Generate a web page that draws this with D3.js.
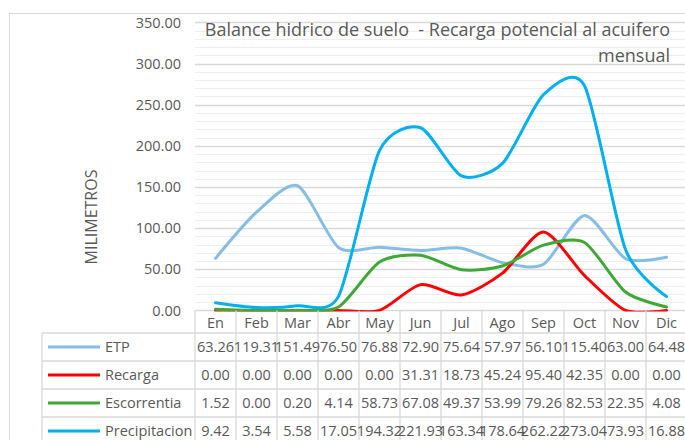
<!DOCTYPE html>
<html>
<head>
<meta charset="utf-8">
<script src="https://cdn.jsdelivr.net/npm/d3@7"></script>
<style>
  body { margin: 0; background: #fff; }
  text { font-family: "Open Sans", "Noto Sans", sans-serif; fill: #595959; }
</style>
</head>
<body>
<div id="chart"></div>
<script>
var months = ["En", "Feb", "Mar", "Abr", "May", "Jun", "Jul", "Ago", "Sep", "Oct", "Nov", "Dic"];
var etp = [63.26, 119.31, 151.49, 76.50, 76.88, 72.90, 75.64, 57.97, 56.10, 115.40, 63.00, 64.48];
var recarga = [0.00, 0.00, 0.00, 0.00, 0.00, 31.31, 18.73, 45.24, 95.40, 42.35, 0.00, 0.00];
var escorrentia = [1.52, 0.00, 0.20, 4.14, 58.73, 67.08, 49.37, 53.99, 79.26, 82.53, 22.35, 4.08];
var precipitacion = [9.42, 3.54, 5.58, 17.05, 194.32, 221.93, 163.34, 178.64, 262.22, 273.04, 73.93, 16.88];
var yTicks = [0, 50, 100, 150, 200, 250, 300, 350];

var series = [
  {name: "ETP", values: etp, color: "#86bde6"},
  {name: "Recarga", values: recarga, color: "#ff0000"},
  {name: "Escorrentia", values: escorrentia, color: "#3ea936"},
  {name: "Precipitacion", values: precipitacion, color: "#00b0f0"}
];

var width = 685, height = 440;
var plotLeft = 195, plotRight = 687, plotTop = 22.4, plotBottom = 310.4;
var rowH = 28, headerBottom = 333, legendLeft = 42;

var svg = d3.select("#chart").append("svg")
    .attr("width", width)
    .attr("height", height);

// outer chart border
svg.append("rect")
    .attr("x", 9.5).attr("y", 13.5)
    .attr("width", 700).attr("height", 460)
    .attr("fill", "none")
    .attr("stroke", "#d9d9d9");

var x = d3.scaleBand().domain(months).range([plotLeft, plotRight]);
var y = d3.scaleLinear().domain([0, 350]).range([plotBottom, plotTop]);

// gridlines, minor then major
var minor = d3.range(10, 350, 10).filter(function(v) { return v % 50 != 0; });
svg.append("g").selectAll("line").data(minor).enter().append("line")
    .attr("x1", plotLeft).attr("x2", plotRight)
    .attr("y1", function(d) { return Math.round(y(d)) + 0.5; })
    .attr("y2", function(d) { return Math.round(y(d)) + 0.5; })
    .attr("stroke", "#eeeeee");
svg.append("g").selectAll("line").data(yTicks).enter().append("line")
    .attr("x1", plotLeft).attr("x2", plotRight)
    .attr("y1", function(d) { return Math.round(y(d)) + 0.5; })
    .attr("y2", function(d) { return Math.round(y(d)) + 0.5; })
    .attr("stroke", "#d9d9d9")
    .attr("stroke-width", 1.3);

// y axis labels
var yAxis = d3.axisLeft(y).tickValues(yTicks).tickSize(0).tickPadding(14)
    .tickFormat(d3.format(".2f"));
var ya = svg.append("g").attr("transform", "translate(" + plotLeft + ",0)").call(yAxis);
ya.select(".domain").remove();
ya.selectAll("text").attr("font-size", "14.5px").attr("fill", "#595959")
    .style("font-family", "'Open Sans', sans-serif");

svg.append("text")
    .attr("transform", "translate(97,217) rotate(-90)")
    .attr("text-anchor", "middle")
    .attr("font-size", "16px")
    .text("MILIMETROS");

// title
svg.append("text")
    .attr("x", 670).attr("y", 36)
    .attr("text-anchor", "end")
    .attr("font-size", "18px")
    .attr("xml:space", "preserve")
    .text("Balance hidrico de suelo  - Recarga potencial al acuifero");
svg.append("text")
    .attr("x", 670).attr("y", 62)
    .attr("text-anchor", "end")
    .attr("font-size", "18px")
    .text("mensual");

// lines
svg.append("clipPath").attr("id", "plotclip")
  .append("rect").attr("x", plotLeft).attr("y", plotTop)
    .attr("width", plotRight - plotLeft).attr("height", plotBottom - plotTop + 1);

var line = d3.line()
    .x(function(d, i) { return x(months[i]) + x.bandwidth() / 2; })
    .y(function(d) { return y(d); })
    .curve(d3.curveCardinal.tension(0.25));

svg.append("g").attr("clip-path", "url(#plotclip)")
  .selectAll("path").data(series).enter().append("path")
    .attr("d", function(d) { return line(d.values); })
    .attr("fill", "none")
    .attr("stroke", function(d) { return d.color; })
    .attr("stroke-width", 3)
    .attr("stroke-linecap", "round");

// data table
var grid = svg.append("g").attr("stroke", "#d9d9d9").attr("stroke-width", 1.3);
months.forEach(function(m) {
  var xx = x(m);
  grid.append("line").attr("x1", xx).attr("x2", xx).attr("y1", plotBottom).attr("y2", height + 10);
});
grid.append("line").attr("x1", plotRight).attr("x2", plotRight).attr("y1", plotBottom).attr("y2", height + 10);
grid.append("line").attr("x1", legendLeft).attr("x2", legendLeft).attr("y1", headerBottom).attr("y2", height + 10);
for (var r = 0; r <= series.length; r++) {
  grid.append("line")
      .attr("x1", legendLeft).attr("x2", plotRight)
      .attr("y1", headerBottom + r * rowH).attr("y2", headerBottom + r * rowH);
}

svg.append("g").selectAll("text").data(months).enter().append("text")
    .attr("x", function(d) { return x(d) + x.bandwidth() / 2; })
    .attr("y", 328)
    .attr("text-anchor", "middle")
    .attr("font-size", "14.5px")
    .text(function(d) { return d; });

var rows = svg.append("g").selectAll("g").data(series).enter().append("g")
    .attr("transform", function(d, i) { return "translate(0," + (headerBottom + i * rowH + rowH / 2) + ")"; });

rows.append("line")
    .attr("x1", 48).attr("x2", 100)
    .attr("y1", 0).attr("y2", 0)
    .attr("stroke", function(d) { return d.color; })
    .attr("stroke-width", 3);

rows.append("text")
    .attr("x", 105).attr("y", 5)
    .attr("font-size", "14.5px")
    .text(function(d) { return d.name; });

rows.selectAll(".val").data(function(d) { return d.values; }).enter().append("text")
    .attr("class", "val")
    .attr("x", function(d, i) { return x(months[i]) + x.bandwidth() / 2; })
    .attr("y", 5)
    .attr("text-anchor", "middle")
    .attr("font-size", "14.5px")
    .text(function(d) { return d3.format(".2f")(d); });
</script>
</body>
</html>
